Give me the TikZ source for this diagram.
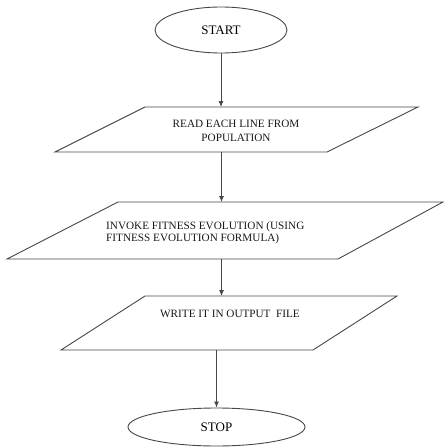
\documentclass[tikz,border=0pt]{standalone}
\usepackage{fontspec}
\setmainfont{Liberation Serif}
\usetikzlibrary{arrows.meta,calc,shapes.geometric}
\begin{document}
\begin{tikzpicture}[x=1pt,y=-1pt,
  line/.style={draw=black!72,line width=0.9pt},
  arr/.style={line,-{Latex[length=6pt,width=5pt]}},
  term/.style={ellipse,line,inner sep=0pt,font=\fontsize{13}{15}\selectfont},
  frame/.style={draw=none,inner sep=0pt,outer sep=0pt},
  txt/.style={font=\fontsize{11.2}{14}\selectfont,inner sep=0pt,text=black!90}]
\useasboundingbox (0,0) rectangle (444,447);

% terminals
\node[term,minimum width=132pt,minimum height=46pt] (start) at (221,30) {START};
\node[term,minimum width=177pt,minimum height=38pt] (stop) at (216.5,427) {STOP};

% input/output boxes: bounding frames, outlines drawn from their corners
\node[frame,minimum width=363pt,minimum height=45pt] (p1) at (236.5,129.5) {};
\draw[line] ($(p1.north west)+(90,0)$) -- (p1.north east)
  -- ($(p1.south east)+(-91,0)$) -- (p1.south west) -- cycle;

\node[frame,minimum width=436pt,minimum height=57pt] (p2) at (225,230.5) {};
\draw[line] ($(p2.north west)+(111,0)$) -- (p2.north east)
  -- ($(p2.south east)+(-105,0)$) -- (p2.south west) -- cycle;

\node[frame,minimum width=336pt,minimum height=54pt] (p3) at (229,323) {};
\draw[line] ($(p3.north west)+(84,0)$) -- (p3.north east)
  -- ($(p3.south east)+(-84,0)$) -- (p3.south west) -- cycle;

% texts
\node[txt,align=center] (t1) at (236,131)
  {READ EACH LINE FROM\\POPULATION};
\node[txt,align=left,anchor=west,font=\fontsize{11.2}{12}\selectfont] (t2) at (106,233)
  {INVOKE FITNESS EVOLUTION (USING\\FITNESS EVOLUTION FORMULA)};
\node[txt] (t3) at (230,314) {WRITE IT IN OUTPUT\ \ FILE};

% vertical guides for the connectors
\coordinate (g1) at (221.5,0);
\coordinate (g2) at (216.5,0);

% connectors
\draw[arr] (start.south) -- (start.south |- p1.north);
\draw[arr] (g1 |- p1.south) -- (g1 |- p2.north);
\draw[arr] (g1 |- p2.south) -- (g1 |- p3.north);
\draw[arr] (g2 |- p3.south) -- (stop.north);
\end{tikzpicture}
\end{document}
